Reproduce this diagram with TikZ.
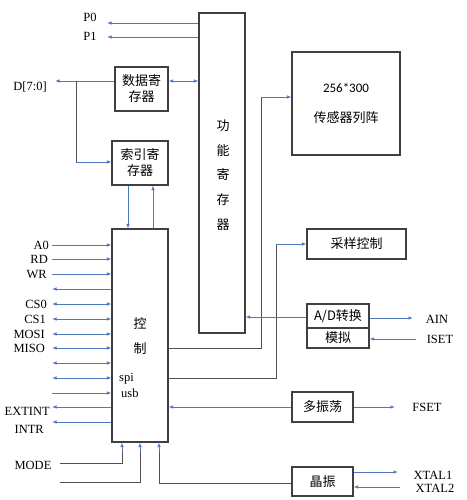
\documentclass[tikz,border=0pt]{standalone}
\usepackage{fontspec}
\setmainfont{Liberation Serif}
\newfontfamily\cjk{Noto Sans CJK SC}
\newfontfamily\calfont{Carlito}
\usetikzlibrary{arrows.meta}
\definecolor{lblue}{RGB}{79,119,190}
\definecolor{dgray}{RGB}{80,80,80}
\definecolor{bord}{RGB}{64,64,64}
\begin{document}
\begin{tikzpicture}[x=1pt,y=-1pt,
  box/.style={draw=bord,line width=1.1pt,inner sep=0pt,align=center,font=\cjk\fontsize{13}{16}\selectfont},
  lbl/.style={inner sep=0pt,font=\fontsize{12.5}{14}\selectfont},
  ctxt/.style={inner sep=0pt,font=\cjk\fontsize{13}{16}\selectfont},
  sig/.style={draw=lblue,line width=0.8pt,-{Latex[length=4.5pt,width=3.5pt]}},
  sigl/.style={draw=lblue,line width=0.8pt,{Latex[length=4.5pt,width=3.5pt]}-},
  sigb/.style={draw=lblue,line width=0.8pt,{Latex[length=4.5pt,width=3.5pt]}-{Latex[length=4.5pt,width=3.5pt]}},
  wire/.style={draw=dgray,line width=1pt}]
\useasboundingbox (0,0) rectangle (466,500);

% boxes
\node[box,minimum width=46pt,minimum height=320pt] (func) at (222,173) {};
\node[ctxt,align=center,font=\cjk\fontsize{13}{24.6}\selectfont] (funct) at (223,175) {功\\能\\寄\\存\\器};
\node[box,minimum width=53pt,minimum height=44pt] (data) at (141.5,89) {数据寄\\存器};
\node[box,minimum width=56pt,minimum height=44pt] (idx) at (140,163) {索引寄\\存器};
\node[box,minimum width=56pt,minimum height=213pt] (ctrl) at (140,335.5) {};
\node[ctxt] (kong) at (140,323) {控};
\node[ctxt] (zhi) at (140,349) {制};
\node[lbl,anchor=west] (spi) at (119,379) {spi};
\node[lbl,anchor=west] (usb) at (121,393) {usb};
\node[box,minimum width=108pt,minimum height=103pt,font=\calfont\fontsize{13}{30}\selectfont] (sensor) at (346,103.5) {256*300\\{\cjk 传感器列阵}};
\node[box,minimum width=99pt,minimum height=30pt] (samp) at (356.5,244) {采样控制};
\node[box,minimum width=62pt,minimum height=24pt] (ad) at (338,316) {A/D\cjk 转换};
\node[box,minimum width=62pt,minimum height=20pt] (sim) at (338,338) {模拟};
\node[box,minimum width=61pt,minimum height=30pt] (osc) at (322.5,407) {多振荡};
\node[box,minimum width=61pt,minimum height=29pt] (xtal) at (322.5,481.5) {晶振};

% P0 P1
\coordinate (cP0) at (107,23);
\coordinate (cP1) at (107,37);
\node[lbl] (P0) at (90,17) {P0};
\node[lbl] (P1) at (90,36) {P1};
\draw[sigl] (cP0) -- (cP0 -| func.west);
\draw[sigl] (cP1) -- (cP1 -| func.west);

% data register
\draw[sigb] (data.east |- 0,81) -- (func.west |- 0,81);
\coordinate (cD) at (55,81);
\coordinate (br) at (76,81);
\coordinate (br2) at (76,162);
\node[lbl] (D) at (30,87) {D[7:0]};
\draw[sigl] (cD) -- (cD -| data.west);
\draw[wire] (br) -- (br2);
\draw[sig] (br2) -- (br2 -| idx.west);

% idx <-> ctrl
\draw[sig] (idx.south -| 128,0) -- (ctrl.north -| 128,0);
\draw[sig] (ctrl.north -| 153,0) -- (idx.south -| 153,0);

% left signals
\coordinate (cA0) at (52,245);  \node[lbl,anchor=east] (A0) at (49,245) {A0};
\coordinate (cRD) at (52,259);  \node[lbl,anchor=east] (RD) at (48,259) {RD};
\coordinate (cWR) at (52,274);  \node[lbl,anchor=east] (WR) at (47,274) {WR};
\coordinate (cX1) at (52,289);
\coordinate (cCS0) at (52,304); \node[lbl,anchor=east] (CS0) at (47,304) {CS0};
\coordinate (cCS1) at (52,319); \node[lbl,anchor=east] (CS1) at (46,319) {CS1};
\coordinate (cMOSI) at (52,334); \node[lbl,anchor=east] (MOSI) at (45,334) {MOSI};
\coordinate (cMISO) at (52,348); \node[lbl,anchor=east] (MISO) at (45,348) {MISO};
\coordinate (cX2) at (52,363);
\coordinate (cX3) at (52,378);
\coordinate (cX4) at (52,393);
\coordinate (cEXT) at (52,407); \node[lbl,anchor=east] (EXT) at (50,411) {EXTINT};
\coordinate (cINTR) at (52,422); \node[lbl,anchor=east] (INTR) at (44,429) {INTR};

\draw[sig] (cA0) -- (cA0 -| ctrl.west);
\draw[sig] (cRD) -- (cRD -| ctrl.west);
\draw[sig] (cWR) -- (cWR -| ctrl.west);
\draw[sigl] (cX1) -- (cX1 -| ctrl.west);
\draw[sigb] (cCS0) -- (cCS0 -| ctrl.west);
\draw[sigb] (cCS1) -- (cCS1 -| ctrl.west);
\draw[sigb] (cMOSI) -- (cMOSI -| ctrl.west);
\draw[sigb] (cMISO) -- (cMISO -| ctrl.west);
\draw[sigb] (cX2) -- (cX2 -| ctrl.west);
\draw[sigb] (cX3) -- (cX3 -| ctrl.west);
\draw[sig] (cX4) -- (cX4 -| ctrl.west);
\draw[sigl] (cEXT) -- (cEXT -| ctrl.west);
\draw[sigl] (cINTR) -- (cINTR -| ctrl.west);

% bottom inputs
\node[lbl] (MODE) at (33,465) {MODE};
\coordinate (cM) at (60,463);
\coordinate (cM2) at (60,482);
\draw[wire] (cM) -- (122,463) -- (122,452);
\draw[sig] (122,452) -- (ctrl.south -| 122,0);
\draw[wire] (cM2) -- (140,482) -- (140,452);
\draw[sig] (140,452) -- (ctrl.south -| 140,0);
\draw[wire] (xtal.west |- 0,483) -- (159,483) -- (159,452);
\draw[sig] (159,452) -- (ctrl.south -| 159,0);

% control outputs to right
\draw[wire] (ctrl.east |- 0,348) -- (261,348) -- (261,97);
\draw[sig] (261,97) -- (sensor.west |- 0,97);
\draw[wire] (ctrl.east |- 0,378) -- (276,378) -- (276,244);
\draw[sig] (276,244) -- (samp.west |- 0,244);

% A/D
\draw[sig] (ad.west |- 0,317) -- (func.east |- 0,317);
\coordinate (cAIN) at (413,318);
\node[lbl] (AIN) at (437,319) {AIN};
\draw[sig] (ad.east |- cAIN) -- (cAIN);
\coordinate (cISET) at (416,339);
\node[lbl] (ISET) at (440,339) {ISET};
\draw[sigl] (sim.east |- cISET) -- (cISET);

% oscillator
\draw[sig] (osc.west) -- (osc.west -| ctrl.east);
\coordinate (cF) at (395,407);
\node[lbl] (FSET) at (427,407) {FSET};
\draw[sig] (osc.east) -- (cF);

% crystal
\coordinate (cX1r) at (398,472);
\coordinate (cX2r) at (400,487);
\node[lbl] (XT1) at (433,475) {XTAL1};
\node[lbl] (XT2) at (435,488) {XTAL2};
\draw[sig] (xtal.east |- cX1r) -- (cX1r);
\draw[sigl] (xtal.east |- cX2r) -- (cX2r);
\end{tikzpicture}
\end{document}
